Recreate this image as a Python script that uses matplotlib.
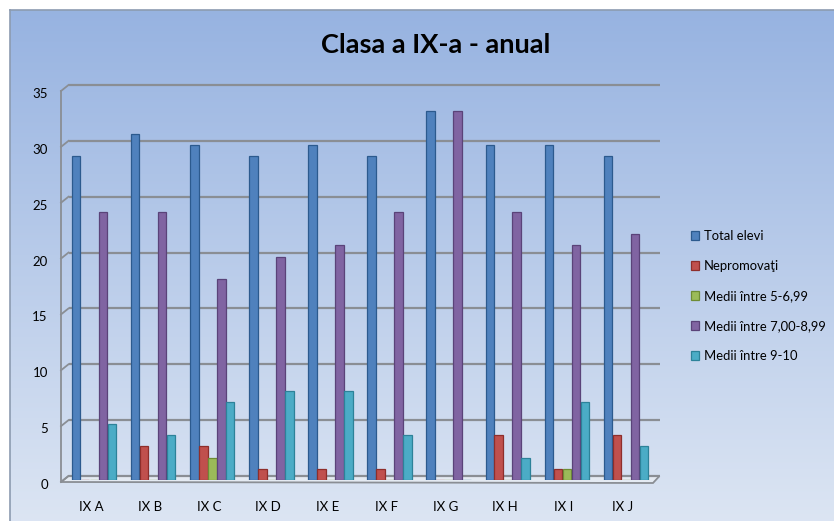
import numpy as np
import matplotlib.pyplot as plt
import matplotlib.transforms as mtransforms

# data
classes = ['IX A', 'IX B', 'IX C', 'IX D', 'IX E', 'IX F', 'IX G', 'IX H', 'IX I', 'IX J']
total = [29, 31, 30, 29, 30, 29, 33, 30, 30, 29]
nepromovati = [0, 3, 3, 1, 1, 1, 0, 4, 1, 4]
medii_5_7 = [0, 0, 2, 0, 0, 0, 0, 0, 1, 0]
medii_7_9 = [24, 24, 18, 20, 21, 24, 33, 24, 21, 22]
medii_9_10 = [5, 4, 7, 8, 8, 4, 0, 2, 7, 3]
series_names = ['Total elevi', 'Nepromovaţi', 'Medii între 5-6,99',
                'Medii între 7,00-8,99', 'Medii între 9-10']
yticks = [0, 5, 10, 15, 20, 25, 30, 35]

colors = ['#4F81BD', '#C0504D', '#9BBB59', '#8064A2', '#4BACC6']
edges = ['#2C5A8E', '#8E2E2B', '#6E8C35', '#5A4379', '#2D8299']

plt.rcParams['font.family'] = ['Lato', 'DejaVu Sans']

W, H = 834, 521
fig = plt.figure(figsize=(W / 100, H / 100), dpi=100)
fig.patch.set_facecolor('white')

# gradient background of the chart area
bg = fig.add_axes([10 / W, 0, 1 - 10 / W, 1 - 10 / H])
grad = np.linspace(0, 1, 256)[:, None]
top = np.array([0.592, 0.702, 0.882])
bot = np.array([0.862, 0.898, 0.953])
img = top[None, None, :] * (1 - grad[:, :, None]) + bot[None, None, :] * grad[:, :, None]
bg.imshow(img, aspect='auto', extent=[0, 1, 0, 1])
bg.set_xlim(0, 1)
bg.set_ylim(0, 1)
bg.set_xticks([])
bg.set_yticks([])
for side in ['right', 'bottom']:
    bg.spines[side].set_visible(False)
for side in ['left', 'top']:
    bg.spines[side].set_color('#8C9BB0')
    bg.spines[side].set_linewidth(1.2)

# plot axes: bar zero at y=480 px, 35 at y=89 px
x0, x1 = 64.5, 655.5
ax = fig.add_axes([x0 / W, (H - 480) / H, (x1 - x0) / W, 391 / H])
ax.patch.set_alpha(0)
n = len(classes)
ax.set_xlim(-0.5, n - 0.5)
ax.set_ylim(0, 35)
for s in ax.spines.values():
    s.set_visible(False)

# pixel -> data units, for the fake 3D depth
ux = n / (x1 - x0)
uy = 35 / 391
left, right = -0.5, n - 0.5
fdx, fdy = -3.5 * ux, -2 * uy   # front plane offset
bdx, bdy = 4 * ux, 4 * uy       # back plane offset

grid_col = '#8A8E94'

# floor
floor = plt.Polygon([(left + fdx, fdy), (left + bdx, bdy), (right + bdx, bdy),
                     (right + fdx + 1 * ux, fdy - 1 * uy)], closed=True,
                    facecolor='#E4EAF2', edgecolor=grid_col, linewidth=1.3,
                    zorder=1, clip_on=False)
ax.add_patch(floor)

# back gridlines + left wall
for v in yticks:
    ax.plot([left + bdx, right + bdx], [v + bdy, v + bdy], color=grid_col, lw=1.6,
            zorder=1, clip_on=False, solid_capstyle='butt')
    ax.plot([left + fdx, left + bdx], [v + fdy, v + bdy], color=grid_col, lw=1.3,
            zorder=1, clip_on=False)
ax.plot([left + fdx, left + fdx], [fdy, 35 + fdy], color=grid_col, lw=1.3,
        zorder=2, clip_on=False)

# bars
x = np.arange(n)
bw = 0.152
series = [total, nepromovati, medii_5_7, medii_7_9, medii_9_10]
for i, (vals, c, e, name) in enumerate(zip(series, colors, edges, series_names)):
    ax.bar(x + (i - 2) * bw, vals, width=bw * 0.95, color=c, edgecolor=e,
           linewidth=0.9, label=name, zorder=3)

ax.set_yticks(yticks)
ax.set_yticklabels([str(v) for v in yticks], fontsize=9.5)
ax.tick_params(axis='y', length=0, pad=12)
for lab in ax.get_yticklabels():
    lab.set_transform(lab.get_transform() + mtransforms.Affine2D().translate(0, -4))
ax.set_xticks(x - 3 * ux)
ax.set_xticklabels(classes, fontsize=9.5)
ax.tick_params(axis='x', length=0, pad=15)

fig.text(436 / W, 1 - 45 / H, 'Clasa a IX-a - anual', fontsize=19.5, fontweight='bold',
         ha='center', va='center')

leg = ax.legend(loc='upper left', bbox_to_anchor=(691 / W, 1 - 230 / H),
                bbox_transform=fig.transFigure, frameon=False, fontsize=9.4,
                handlelength=0.6, handleheight=0.6, handletextpad=0.4,
                labelspacing=1.38, borderpad=0, borderaxespad=0)

fig.savefig('out.png', dpi=100)
